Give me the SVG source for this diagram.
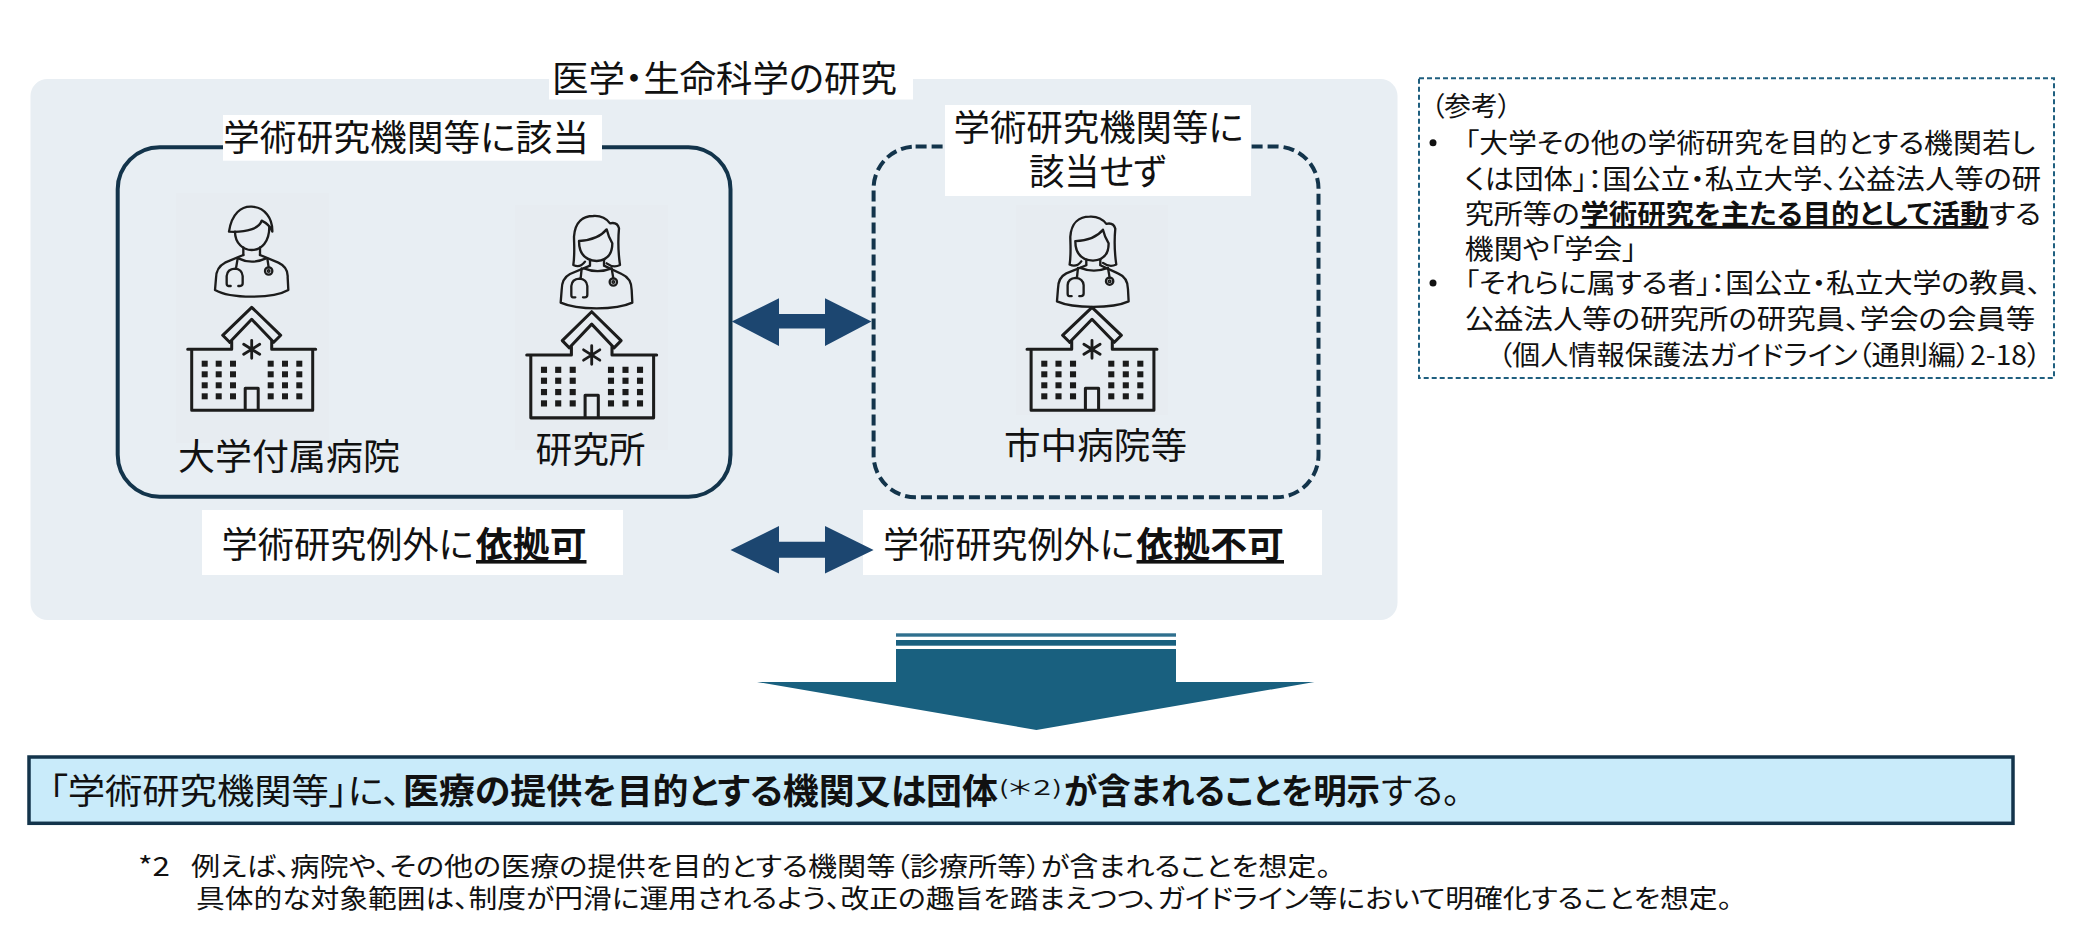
<svg xmlns="http://www.w3.org/2000/svg" xmlns:xlink="http://www.w3.org/1999/xlink" width="2081" height="952" viewBox="0 0 2081 952">
<style>
text{font-family:"Noto Sans CJK JP","Noto Sans",sans-serif;fill:#111;font-weight:400;font-feature-settings:"palt"}
.t36{font-size:36px}.t35{font-size:35px}.t27{font-size:27px}.t26{font-size:26.5px}
.b{font-weight:700}
.ic{fill:none;stroke:#1c1c1c;stroke-linejoin:round;stroke-linecap:round}
.win{fill:#1a1a1a}
.lab{fill:#fff}
.dark{fill:#1c4670}
</style>
<defs>
<g id="hospital">
<path class="ic" stroke-width="3" d="M0,-42L29,-14L22,-7L0,-30L-22,-7L-29,-14Z"/>
<path class="ic" stroke-width="3" d="M-20,-8V0H-64M20,-8V0H64M-60,0V61H61V0M-6.5,61V39H6.5V61"/>
<path class="ic" stroke-width="2.8" d="M0,-9V9M-8,-5L8,5M-8,5L8,-5"/>
<g class="win">
<rect x="-50" y="11.4" width="6" height="6"/><rect x="-36" y="11.4" width="6" height="6"/><rect x="-21.700" y="11.4" width="6" height="6"/><rect x="16" y="11.4" width="6" height="6"/><rect x="30.300" y="11.4" width="6" height="6"/><rect x="44.600" y="11.4" width="6" height="6"/>
<rect x="-50" y="22" width="6" height="6"/><rect x="-36" y="22" width="6" height="6"/><rect x="-21.700" y="22" width="6" height="6"/><rect x="16" y="22" width="6" height="6"/><rect x="30.300" y="22" width="6" height="6"/><rect x="44.600" y="22" width="6" height="6"/>
<rect x="-50" y="33" width="6" height="6"/><rect x="-36" y="33" width="6" height="6"/><rect x="-21.700" y="33" width="6" height="6"/><rect x="16" y="33" width="6" height="6"/><rect x="30.300" y="33" width="6" height="6"/><rect x="44.600" y="33" width="6" height="6"/>
<rect x="-50" y="44" width="6" height="6"/><rect x="-36" y="44" width="6" height="6"/><rect x="-21.700" y="44" width="6" height="6"/><rect x="16" y="44" width="6" height="6"/><rect x="30.300" y="44" width="6" height="6"/><rect x="44.600" y="44" width="6" height="6"/>
</g>
</g>
<g id="man" class="ic" stroke-width="7">
<path d="M207,125C215,70 245,48 275,50C315,52 338,85 337,125C332,112 322,100 305,92C298,115 262,128 207,125Z"/>
<path d="M225,125C225,160 250,180 275,180C305,180 328,155 328,110"/>
<path d="M250,172V195M300,172V195M235,205Q275,225 318,205"/>
<path d="M250,195L195,218Q168,232 168,265L165,300Q200,320 275,320Q350,320 385,300L383,262Q385,232 355,218L300,195"/>
<path d="M233,205L228,235M212,288H205Q200,288 200,280V258Q202,237 225,236Q246,238 248,258V280Q248,288 240,288H235"/>
<path d="M322,205L326,232"/><circle cx="326" cy="243" r="11"/><circle cx="326" cy="243" r="2.500"/>
</g>
<g id="woman" class="ic" stroke-width="7">
<path d="M190,195C195,160 192,130 192,110C195,65 220,48 250,48Q282,46 300,70Q322,65 327,85Q322,140 330,195Q310,205 290,190M190,195Q210,205 225,185"/>
<path d="M207,123Q207,180 260,183Q307,180 307,130Q295,110 290,88Q265,120 207,123Z"/>
<path d="M240,180V195M282,180V195M222,205Q262,222 305,205"/>
<path d="M240,197L180,222Q155,235 155,270L152,308Q190,325 260,325Q330,325 367,308L365,270Q365,235 335,222L282,197"/>
<path d="M215,205L212,235M196,292H189Q184,292 184,284V258Q186,237 208,236Q230,238 232,258V284Q232,292 224,292H219"/>
<path d="M305,205L310,235"/><circle cx="310" cy="246" r="11"/><circle cx="310" cy="246" r="2.500"/>
</g>
</defs>

<rect width="2081" height="952" fill="#fff"/>

<g id="panel-research">
<rect x="30.500" y="79" width="1367" height="541" rx="17" fill="#e8eef3"/>
<rect class="lab" x="549" y="58" width="364" height="41.500"/>
<text class="t36" x="552" y="92" textLength="345" lengthAdjust="spacingAndGlyphs">医学・生命科学の研究</text>
</g>

<g id="node-applicable">
<rect x="117.700" y="147.300" width="612.800" height="349.400" rx="42" fill="none" stroke="#13344b" stroke-width="4"/>
<rect class="lab" x="223" y="115" width="379" height="45.700"/>
<text class="t36" x="223" y="151" textLength="366" lengthAdjust="spacingAndGlyphs">学術研究機関等に該当</text>
</g>

<g id="node-university-hospital">
<rect x="176" y="193" width="153" height="250" fill="#e7ecf1"/>
<use xlink:href="#man" href="#man" transform="translate(160,190) scale(.33333)"/>
<use xlink:href="#hospital" href="#hospital" transform="translate(251.700,349.300)"/>
<text class="t36" x="178" y="470" textLength="222" lengthAdjust="spacingAndGlyphs">大学付属病院</text>
</g>

<g id="node-institute">
<rect x="515" y="205" width="153" height="245" fill="#e7ecf1"/>
<use xlink:href="#woman" href="#woman" transform="translate(510,200) scale(.33333)"/>
<use xlink:href="#hospital" href="#hospital" transform="translate(591.700,355) scale(1.015,1.03)"/>
<text class="t36" x="535.500" y="463" textLength="110" lengthAdjust="spacingAndGlyphs">研究所</text>
</g>

<g id="node-not-applicable">
<rect x="873.600" y="146.500" width="444.900" height="350.800" rx="42" fill="none" stroke="#13344b" stroke-width="4" stroke-dasharray="11 5"/>
<rect class="lab" x="945" y="105" width="306" height="91"/>
<text class="t36" x="953.500" y="141" textLength="290" lengthAdjust="spacingAndGlyphs">学術研究機関等に</text>
<text class="t36" x="1029" y="185" textLength="137" lengthAdjust="spacingAndGlyphs">該当せず</text>
</g>

<g id="node-city-hospital">
<rect x="1016" y="205" width="152" height="210" fill="#e7ecf1"/>
<use xlink:href="#woman" href="#woman" transform="translate(1006.300,201) scale(.33333,.326)"/>
<use xlink:href="#hospital" href="#hospital" transform="translate(1092,349.300) scale(1.015,1)"/>
<text class="t36" x="1004" y="459" textLength="183" lengthAdjust="spacingAndGlyphs">市中病院等</text>
</g>

<g id="node-exception-yes">
<rect class="lab" x="202" y="510" width="421" height="65"/>
<text class="t36" x="221.500" y="558" textLength="252" lengthAdjust="spacingAndGlyphs">学術研究例外に</text>
<text class="t36 b" x="476" y="558" textLength="110.500" lengthAdjust="spacingAndGlyphs" text-decoration="underline">依拠可</text>
</g>

<g id="node-exception-no">
<rect class="lab" x="863" y="510" width="459" height="65"/>
<text class="t36" x="883" y="558" textLength="251.500" lengthAdjust="spacingAndGlyphs">学術研究例外に</text>
<text class="t36 b" x="1136.500" y="558" textLength="147.500" lengthAdjust="spacingAndGlyphs" text-decoration="underline">依拠不可</text>
</g>

<g id="connectors">
<path class="dark" d="M731.800,321.500L779,298.300V314H825V298.300L871.500,321.500L825,346V328.500H779V346Z"/>
<path class="dark" d="M730.500,550L779,526V541.700H825V526L873.600,550L825,573.500V557.700H779V573.500Z"/>
<g id="result-arrow">
<path fill="#19607f" d="M896,649H1176V682H1314.400L1036.400,730L757,682H896Z"/>
<rect x="896" y="633.300" width="280" height="3.400" fill="#2f6f8e"/>
<rect x="896" y="640" width="280" height="5.700" fill="#19607f"/>
</g>
</g>

<g id="node-reference">
<rect x="1419" y="78.300" width="635" height="299.700" fill="#fff" stroke="#1f5f7f" stroke-width="2" stroke-dasharray="5 3"/>
<text class="t27" x="1431" y="116" textLength="80" lengthAdjust="spacingAndGlyphs">（参考）</text>
<circle cx="1433" cy="142.700" r="3.500" fill="#111"/>
<text class="t27" x="1464.700" y="153" textLength="570.500" lengthAdjust="spacingAndGlyphs">「大学その他の学術研究を目的とする機関若し</text>
<text class="t27" x="1464.700" y="189" textLength="576.500" lengthAdjust="spacingAndGlyphs">くは団体」：国公立・私立大学、公益法人等の研</text>
<text class="t27" x="1464.700" y="224" textLength="115" lengthAdjust="spacingAndGlyphs">究所等の</text>
<text class="t27 b" x="1580.500" y="224" textLength="408" lengthAdjust="spacingAndGlyphs" text-decoration="underline">学術研究を主たる目的として活動</text>
<text class="t27" x="1989" y="224" textLength="52" lengthAdjust="spacingAndGlyphs">する</text>
<text class="t27" x="1464.700" y="259" textLength="172" lengthAdjust="spacingAndGlyphs">機関や「学会」</text>
<circle cx="1433" cy="283" r="3.500" fill="#111"/>
<text class="t27" x="1464.700" y="293" textLength="576.500" lengthAdjust="spacingAndGlyphs">「それらに属する者」：国公立・私立大学の教員、</text>
<text class="t27" x="1464.700" y="329" textLength="570.500" lengthAdjust="spacingAndGlyphs">公益法人等の研究所の研究員、学会の会員等</text>
<text class="t27" x="1498" y="365" textLength="543" lengthAdjust="spacingAndGlyphs">（個人情報保護法ガイドライン（通則編）2-18）</text>
</g>

<g id="node-conclusion">
<rect x="29" y="757" width="1984" height="66.300" fill="#c9ebfa" stroke="#13344b" stroke-width="3.500"/>
<text class="t35" x="49" y="804" textLength="352" lengthAdjust="spacingAndGlyphs">「学術研究機関等」に、</text>
<text class="t35 b" x="403" y="804" textLength="595" lengthAdjust="spacingAndGlyphs">医療の提供を目的とする機関又は団体</text>
<text x="999" y="795" font-size="20" textLength="63" lengthAdjust="spacingAndGlyphs">(＊２)</text>
<text class="t35 b" x="1064" y="804" textLength="316" lengthAdjust="spacingAndGlyphs">が含まれることを明示</text>
<text class="t35" x="1381" y="804" textLength="79" lengthAdjust="spacingAndGlyphs">する。</text>
</g>

<g id="node-note">
<text class="t26" x="138" y="875.500" textLength="32" lengthAdjust="spacingAndGlyphs">*2</text>
<text class="t26" x="191" y="875.500" textLength="1140" lengthAdjust="spacingAndGlyphs">例えば、病院や、その他の医療の提供を目的とする機関等（診療所等）が含まれることを想定。</text>
<text class="t26" x="196" y="908" textLength="1536" lengthAdjust="spacingAndGlyphs">具体的な対象範囲は、制度が円滑に運用されるよう、改正の趣旨を踏まえつつ、ガイドライン等において明確化することを想定。</text>
</g>
</svg>
